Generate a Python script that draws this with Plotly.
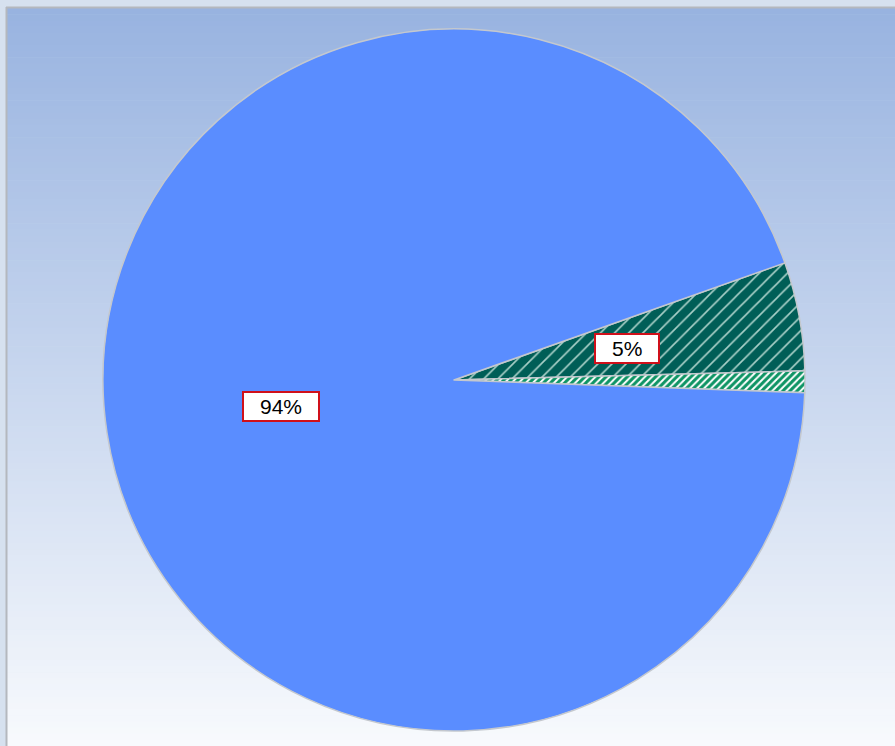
import math
import plotly.graph_objects as go

# ---- data ----
labels = ["Series B", "Series C", "Series A"]
values = [5, 1, 94]
show_label = [True, False, True]

# ---- styling ----
W, H = 895, 746
slice_colors = ["#005E57", "#FFFFFF", "#5A8DFF"]
pattern_shapes = ["/", "/", ""]
pattern_fg = ["#A9D0C8", "#0E9464", "#5A8DFF"]
pattern_size = [10, 5, 8]
pattern_solid = [0.16, 0.6, 0.3]

cx, cy_top, R = 454, 380, 351
cy = H - cy_top
rotation = 70.5  # degrees clockwise from 12 o'clock

fig = go.Figure()
fig.add_trace(go.Pie(
    labels=labels,
    values=values,
    sort=False,
    direction="clockwise",
    rotation=rotation,
    textinfo="none",
    hoverinfo="label+percent",
    showlegend=False,
    domain=dict(x=[(cx - R) / W, (cx + R) / W], y=[(cy - R) / H, (cy + R) / H]),
    marker=dict(
        colors=slice_colors,
        line=dict(color="#C4C8CE", width=1.5),
        pattern=dict(shape=pattern_shapes, fgcolor=pattern_fg,
                     bgcolor=slice_colors, size=pattern_size,
                     solidity=pattern_solid, fillmode="replace"),
    ),
))

# ---- background: outer strip + gradient panel ----
shapes = []
px0, py0 = 7, 8  # panel top-left in pixels
top_rgb = (152, 179, 224)
bot_rgb = (248, 250, 253)
n = 120
for i in range(n):
    t = (i + 0.5) / n
    c = tuple(round(a + (b - a) * t) for a, b in zip(top_rgb, bot_rgb))
    y_a = py0 + (H - py0) * i / n
    y_b = py0 + (H - py0) * (i + 1) / n + 0.6
    shapes.append(dict(type="rect", xref="paper", yref="paper",
                       x0=px0 / W, x1=1.01, y0=1 - y_b / H, y1=1 - y_a / H,
                       fillcolor="rgb(%d,%d,%d)" % c, line=dict(width=0),
                       layer="below"))
shapes.append(dict(type="line", xref="paper", yref="paper",
                   x0=(px0 - 0.5) / W, x1=(px0 - 0.5) / W, y0=-0.01, y1=1 - (py0 - 1) / H,
                   line=dict(color="#B4B8BE", width=2), layer="below"))
shapes.append(dict(type="line", xref="paper", yref="paper",
                   x0=(px0 - 1) / W, x1=1.01, y0=1 - (py0 - 0.5) / H, y1=1 - (py0 - 0.5) / H,
                   line=dict(color="#B4B8BE", width=2), layer="below"))

# ---- percentage labels (computed from the data) ----
total = sum(values)
annotations = []
cum = 0.0
fs = 21
for v, show in zip(values, show_label):
    mid = math.radians(rotation + (cum + v / 2) / total * 360)
    cum += v
    if not show:
        continue
    txt = "%d%%" % round(v / total * 100)
    x = (cx + 0.5 * R * math.sin(mid)) / W
    y = (cy + 0.5 * R * math.cos(mid)) / H
    ndig = len(txt) - 1
    bw = 0.556 * fs * ndig + 0.889 * fs + 30
    annotations.append(dict(x=x, y=y, xref="paper", yref="paper", text=txt,
                            showarrow=False, xanchor="center", yanchor="middle",
                            font=dict(family="Liberation Sans, Arial", size=fs, color="#000000"),
                            bgcolor="#FFFFFF", bordercolor="#D0101A", borderwidth=2,
                            borderpad=1, width=bw, height=25))

fig.update_layout(
    width=W, height=H,
    margin=dict(l=0, r=0, t=0, b=0),
    paper_bgcolor="#D6E1EF",
    plot_bgcolor="rgba(0,0,0,0)",
    shapes=shapes,
    annotations=annotations,
)

fig.write_html("out.html",
               config={"displayModeBar": False},
               post_script="document.body.style.margin='0';document.body.style.padding='0';")
